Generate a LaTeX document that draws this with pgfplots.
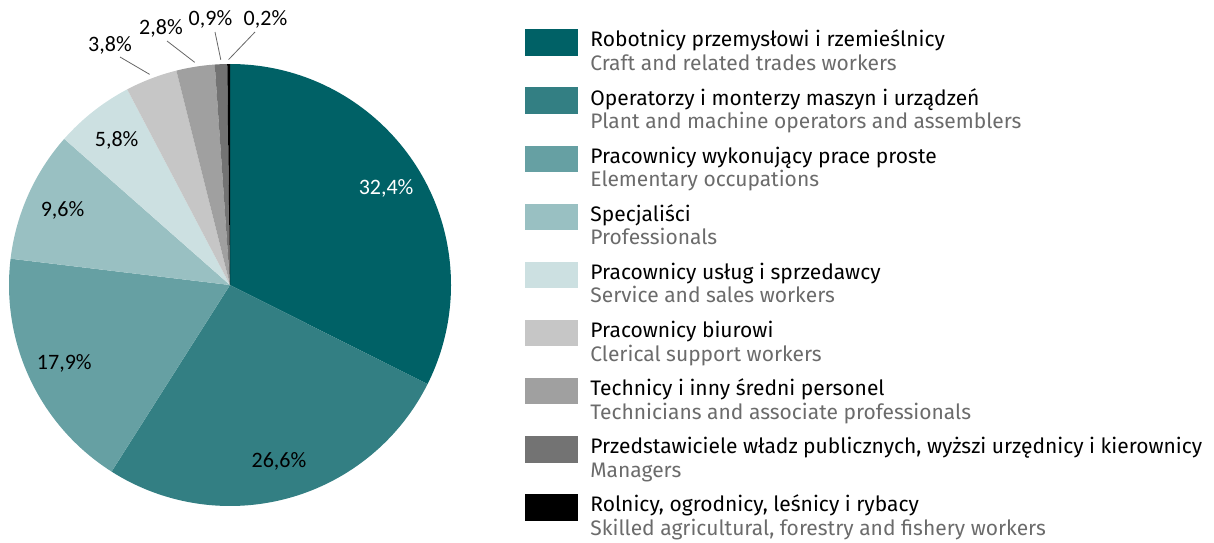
\documentclass[border=0pt]{standalone}
\usepackage{pgfplots}
\pgfplotsset{compat=1.18}
\usepackage{pgfplotstable}
\usetikzlibrary{calc}
\usepackage{fontspec}
\setmainfont{Fira Sans}
\newfontfamily\labelfont{Carlito}

\definecolor{c1}{HTML}{006166}
\definecolor{c2}{HTML}{337F83}
\definecolor{c3}{HTML}{66A0A3}
\definecolor{c4}{HTML}{99C0C2}
\definecolor{c5}{HTML}{CCE0E1}
\definecolor{c6}{HTML}{C6C6C6}
\definecolor{c7}{HTML}{A0A0A0}
\definecolor{c8}{HTML}{737373}
\definecolor{c9}{HTML}{000000}
\definecolor{subgray}{HTML}{6B6B6B}

% share (%), outside label flag, label base point and leader end (px, y up)
\pgfplotstableread{
val out lx ly ex ey
32.4 0 0 0 0 0
26.6 0 0 0 0 0
17.9 0 0 0 0 0
9.6 0 0 0 0 0
5.8 0 0 0 0 0
3.8 1 110 490 120 485
2.8 1 161 507 167 501
0.9 1 210.5 516 215 510
0.2 1 265.5 516 255 510
}\piedata

\def\R{110.5pt}

\begin{document}
\begin{tikzpicture}
\begin{axis}[
x=0.5pt, y=0.5pt,
xmin=0, xmax=1214, ymin=0, ymax=542,
hide axis, clip=false,
/pgf/number format/assume math mode=true,
]
\pgfplotsextra{
  \path (axis cs:0,0) rectangle (axis cs:1214,542);
  \gdef\cum{0}
  \foreach \i in {0,...,8}{
    \pgfplotstablegetelem{\i}{val}\of\piedata \let\v\pgfplotsretval
    \pgfplotstablegetelem{\i}{out}\of\piedata \let\o\pgfplotsretval
    \pgfplotstablegetelem{\i}{lx}\of\piedata \let\lx\pgfplotsretval
    \pgfplotstablegetelem{\i}{ly}\of\piedata \let\ly\pgfplotsretval
    \pgfplotstablegetelem{\i}{ex}\of\piedata \let\ex\pgfplotsretval
    \pgfplotstablegetelem{\i}{ey}\of\piedata \let\ey\pgfplotsretval
    \pgfmathsetmacro\a{90-3.6*\cum}
    \pgfmathsetmacro\b{90-3.6*(\cum+\v)}
    \pgfmathsetmacro\m{(\a+\b)/2}
    \pgfmathtruncatemacro\k{\i+1}
    \fill[c\k] (axis cs:230,257) -- ++(\a:\R) arc[start angle=\a, end angle=\b, radius=\R] -- cycle;
    \ifnum\o=0
      \ifnum\i=0 \def\tc{white}\else\def\tc{black}\fi
      \node[text=\tc, font=\labelfont\fontsize{11}{13}\selectfont]
        at ($(axis cs:230,257)+(\m:0.83*\R)$)
        {\pgfmathprintnumber[fixed,fixed zerofill,precision=1,use comma]{\v}\%};
    \else
      \draw[gray!80!black, line width=0.4pt] ($(axis cs:230,257)+(\m:1.02*\R)$) -- (axis cs:\ex,\ey);
      \node[anchor=base, inner sep=0pt, font=\labelfont\fontsize{11}{13}\selectfont] at (axis cs:\lx,\ly)
        {\pgfmathprintnumber[fixed,fixed zerofill,precision=1,use comma]{\v}\%};
    \fi
    \pgfmathsetmacro\c{\cum+\v}\xdef\cum{\c}
  }
  % legend
  \foreach \pl/\en [count=\k from 0] in {
    {Robotnicy przemysłowi i rzemieślnicy}/{Craft and related trades workers},
    {Operatorzy i monterzy maszyn i urządzeń}/{Plant and machine operators and assemblers},
    {Pracownicy wykonujący prace proste}/{Elementary occupations},
    {Specjaliści}/{Professionals},
    {Pracownicy usług i sprzedawcy}/{Service and sales workers},
    {Pracownicy biurowi}/{Clerical support workers},
    {Technicy i inny średni personel}/{Technicians and associate professionals},
    {Przedstawiciele władz publicznych, wyższi urzędnicy i kierownicy}/{Managers},
    {Rolnicy, ogrodnicy, leśnicy i rybacy}/{Skilled agricultural, forestry and fishery workers}}{
    \pgfmathtruncatemacro\cc{\k+1}
    \pgfmathsetmacro\yt{542-29.3-58.1*\k}
    \pgfmathsetmacro\yb{\yt-26.5}
    \pgfmathsetmacro\ya{542-47-58.1*\k}
    \pgfmathsetmacro\yc{542-70.5-58.1*\k}
    \fill[c\cc] (axis cs:525,\yb) rectangle (axis cs:578,\yt);
    \node[anchor=base west, inner sep=0pt, font=\fontsize{10.5}{12}\selectfont] at (axis cs:590,\ya) {\pl};
    \node[anchor=base west, inner sep=0pt, text=subgray, font=\fontsize{10.5}{12}\selectfont] at (axis cs:590,\yc) {\en};
  }
}
\end{axis}
\end{tikzpicture}
\end{document}
